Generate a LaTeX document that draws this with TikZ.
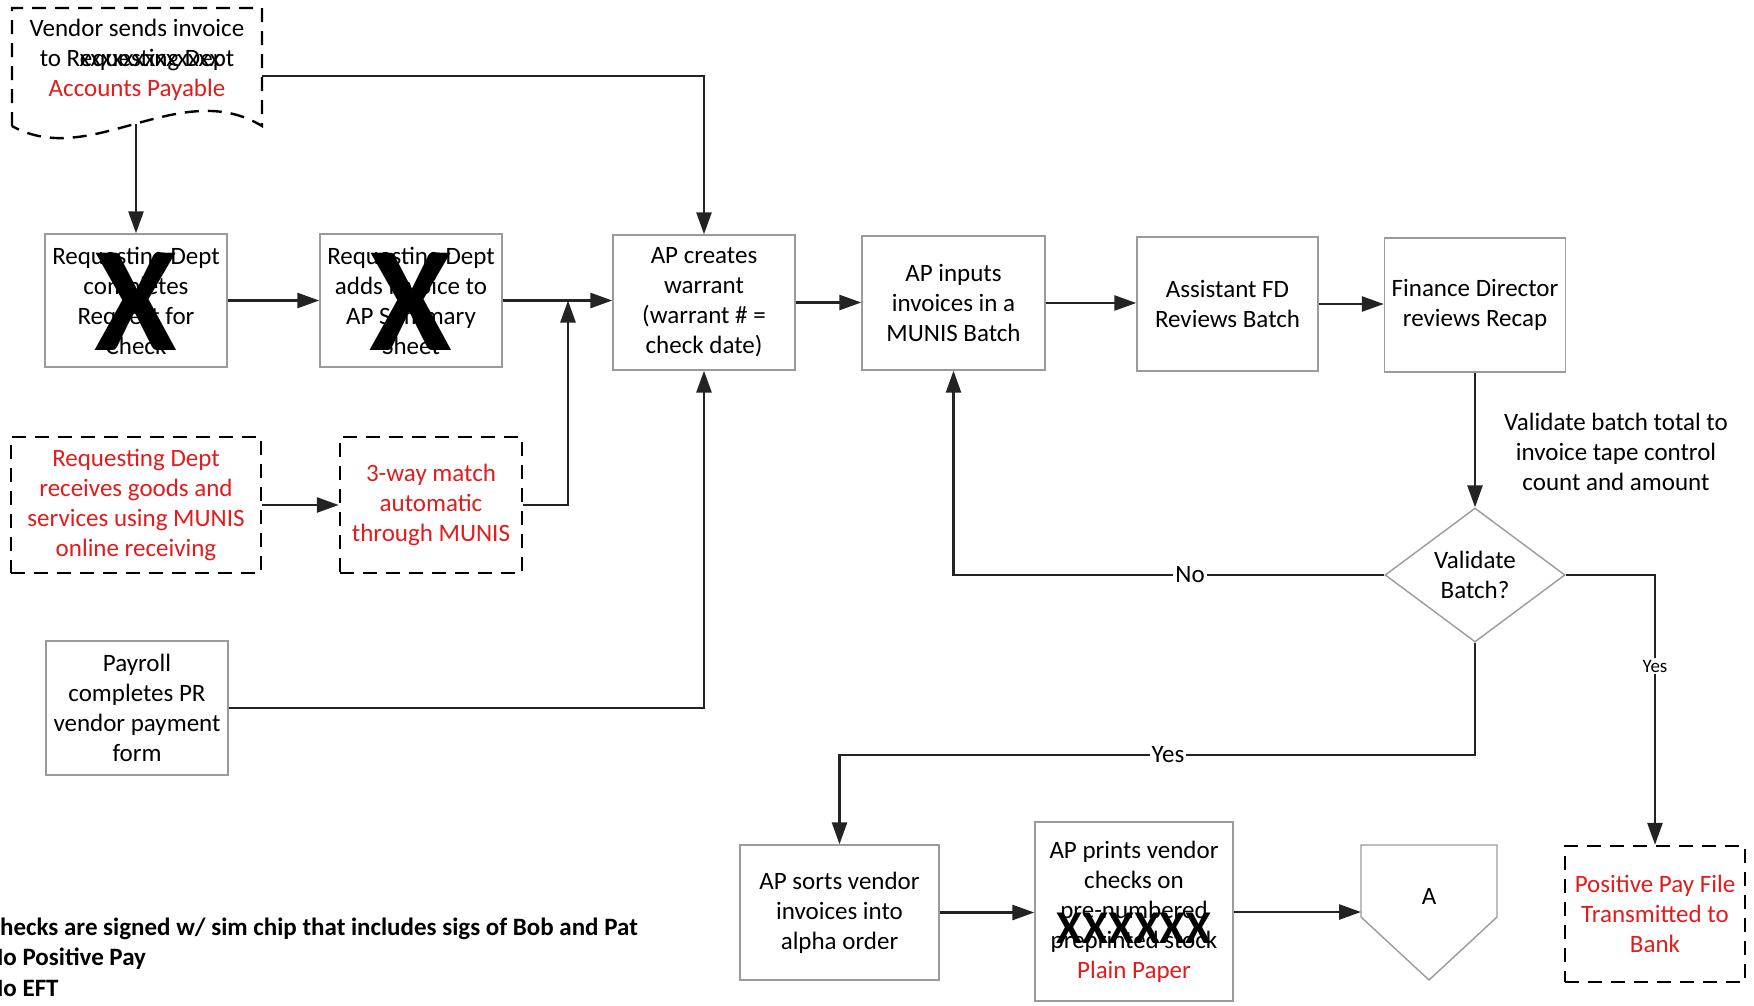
\documentclass[tikz,border=0pt]{standalone}
\usepackage{fontspec}
\setmainfont{Carlito}
\usetikzlibrary{arrows.meta,shapes.geometric,calc}
\definecolor{boxgray}{RGB}{155,155,155}
\definecolor{linedark}{RGB}{35,35,35}
\definecolor{txtred}{RGB}{226,28,28}
\begin{document}
\begin{tikzpicture}[x=1pt,y=-1pt,
  every node/.style={font=\fontsize{25}{30}\selectfont},
  box/.style={draw=boxgray, line width=1.4pt, fill=white, align=center, inner sep=0pt},
  dbox/.style={draw=black, line width=2.4pt, dash pattern=on 14pt off 9pt, fill=white, align=center, inner sep=0pt, text=txtred},
  conn/.style={draw=linedark, line width=2.6pt, -{Triangle[length=22pt,width=15pt]}},
  lbl/.style={fill=white, inner sep=2pt},
  bigx/.style={font={\fontsize{150}{150}\selectfont\bfseries}, inner sep=0pt},
  note/.style={font={\fontsize{25}{30}\selectfont\bfseries}, anchor=base west, inner sep=0pt},
]
\useasboundingbox (0,0) rectangle (1754,1005);
\clip (0,0) rectangle (1754,1005);
\fill[white] (0,0) rectangle (1754,1005);

% document shape
\draw[draw=black, line width=2.4pt, dash pattern=on 14pt off 9pt, fill=white]
  (12,126) -- (12,8) -- (262,8) -- (262,126) .. controls (180,76) and (90,170) .. (12,126) -- cycle;
\node[align=center, inner sep=0pt] (docT) at (137,60) {Vendor sends invoice\\to Requesting Dept\\\textcolor{txtred}{Accounts Payable}};
\node[inner sep=0pt] (docX) at (150,61) {xxxxxxxxxxxxx};
\coordinate (docb) at (136,124);
\coordinate (docr) at (262,76);

% top row
\node[box, minimum width=182, minimum height=133] (b1) at (136,300.5) {Requesting Dept\\completes\\Request for\\Check};
\node[bigx] (x1) at (136,302) {X};
\node[box, minimum width=182, minimum height=133] (b2) at (411,300.5) {Requesting Dept\\adds invoice to\\AP Summary\\Sheet};
\node[bigx] (x2) at (411,302) {X};
\node[box, minimum width=182, minimum height=135] (warrant) at (704,302.5) {AP creates\\warrant\\(warrant \# =\\check date)};
\node[box, minimum width=183, minimum height=134] (inputs) at (953.5,303) {AP inputs\\invoices in a\\MUNIS Batch};
\node[box, minimum width=181, minimum height=134] (afd) at (1227.5,304) {Assistant FD\\Reviews Batch};
\node[box, minimum width=181, minimum height=134] (fdir) at (1475,305) {Finance Director\\reviews Recap};

% middle
\node[dbox, minimum width=250, minimum height=136] (recv) at (136,505) {Requesting Dept\\receives goods and\\services using MUNIS\\online receiving};
\node[dbox, minimum width=182, minimum height=136] (match) at (431,505) {3-way match\\automatic\\through MUNIS};
\coordinate (jn) at (568,300.5);

\node[align=center, inner sep=0pt] (vtext) at (1616,452) {Validate batch total to\\invoice tape control\\count and amount};
\node[diamond, draw=boxgray, line width=1.4pt, fill=white, aspect=1.34, minimum width=180, minimum height=134, inner sep=0pt, align=center] (dia) at (1475,575) {Validate\\Batch?};

\node[box, minimum width=182, minimum height=134] (payroll) at (137,708) {Payroll\\completes PR\\vendor payment\\form};

% bottom row
\node[box, minimum width=199, minimum height=135] (sorts) at (839.5,912.5) {AP sorts vendor\\invoices into\\alpha order};
\node[box, minimum width=198, minimum height=179] (prints) at (1134,911.5) {AP prints vendor\\checks on\\pre-numbered\\preprinted stock\\\textcolor{txtred}{Plain Paper}};
\node[font={\fontsize{47}{47}\selectfont\bfseries}, inner sep=0pt] (px) at (1134,928) {XXXXXX};

\draw[draw=boxgray, line width=1.4pt, fill=white] (1361,845) -- (1497,845) -- (1497,917) -- (1429,980) -- (1361,917) -- cycle;
\node (Alab) at (1429,896) {A};
\coordinate (Ain) at (1361,912);

\node[dbox, minimum width=180, minimum height=136] (pp) at (1655,914) {Positive Pay File\\Transmitted to\\Bank};

% notes
\node[note] (n1) at (-13.2,935) {Checks are signed w/ sim chip that includes sigs of Bob and Pat};
\node[note] (n2) at (-13.2,965) {No Positive Pay};
\node[note] (n3) at (-13.2,996) {No EFT};

% connectors
\draw[conn] (b1.north |- docb) -- (b1.north);
\draw[conn] (docr) -| (warrant.north);
\draw[conn] (b1.east) -- (b2.west);
\draw[conn] (b2.east) -- (b2.east -| warrant.west);
\draw[conn] (recv.east) -- (match.west);
\draw[conn] (match.east) -| (jn);
\draw[conn] (payroll.east) -| (warrant.south);
\draw[conn] (warrant.east) -- (warrant.east -| inputs.west);
\draw[conn] (inputs.east) -- (inputs.east -| afd.west);
\draw[conn] (afd.east) -- (afd.east -| fdir.west);
\draw[conn] (fdir.south) -- (dia.north);
\draw[conn] (dia.west) -| (inputs.south);
\draw[conn] (dia.east) -| (pp.north);
\coordinate (ybend) at (839.5,755);
\draw[conn] (dia.south) |- (ybend) -- (sorts.north);
\draw[conn] (sorts.east) -- (sorts.east -| prints.west);
\draw[conn] (prints.east |- Ain) -- (Ain);

% labels
\node[lbl] (lno) at (1190,575) {No};
\node[lbl] (lyes1) at (1168,755) {Yes};
\node[lbl, font=\fontsize{19}{22}\selectfont] (lyes2) at (1655,666) {Yes};
\end{tikzpicture}
\end{document}
